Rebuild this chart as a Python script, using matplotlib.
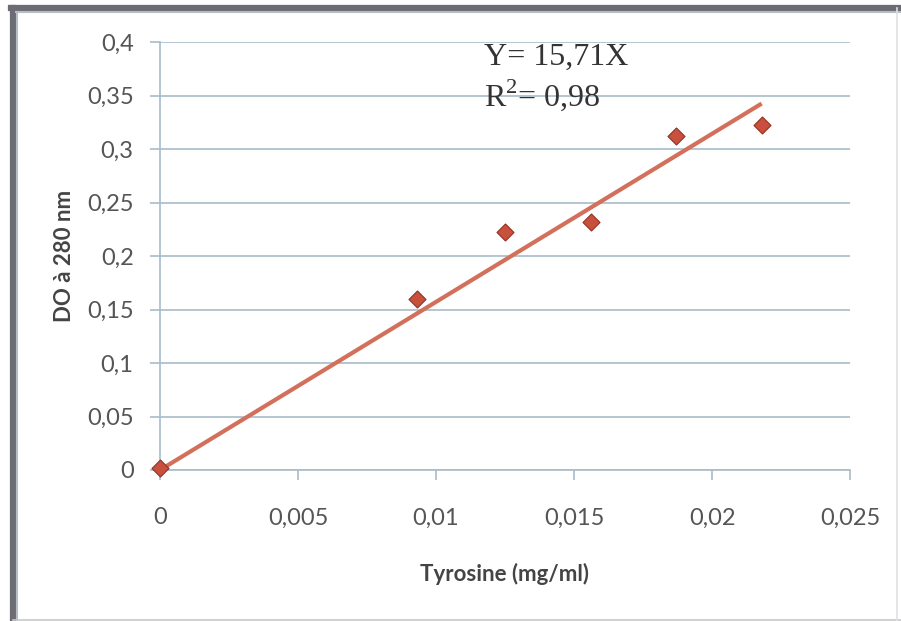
import matplotlib; matplotlib.use("Agg")
import matplotlib.pyplot as plt
from matplotlib.lines import Line2D
from matplotlib.ticker import FuncFormatter
import numpy as np

plt.rcParams["mathtext.fontset"] = "custom"
plt.rcParams["mathtext.rm"] = "Liberation Serif"

# Tyrosine calibration data
tyrosine = [0.0, 0.0093, 0.0125, 0.0156, 0.0187, 0.0218]
do_280 = [0.002, 0.160, 0.222, 0.232, 0.312, 0.322]
slope = 15.71
r2 = 0.98
xticks = [0, 0.005, 0.01, 0.015, 0.02, 0.025]
yticks = [0, 0.05, 0.1, 0.15, 0.2, 0.25, 0.3, 0.35, 0.4]

W, H = 901, 621
fig = plt.figure(figsize=(W/100, H/100), dpi=100)
ax = fig.add_axes([160/W, 1-470/H, 690/W, 428/H])

grid_c = "#a8bcc8"
tick_c = "#555555"
comma = lambda v: ("%g" % v).replace(".", ",")

ax.set_xlim(0, 0.025)
ax.set_ylim(0, 0.4)
ax.set_xticks(xticks)
ax.set_yticks(yticks)
fmt = FuncFormatter(lambda v, p: comma(v))
ax.xaxis.set_major_formatter(fmt)
ax.yaxis.set_major_formatter(fmt)
ax.grid(True, axis="y", color=grid_c, lw=1.2)
ax.set_axisbelow(True)
for s in ["top", "right"]:
    ax.spines[s].set_visible(False)
for s in ["left", "bottom"]:
    ax.spines[s].set_color(grid_c)
    ax.spines[s].set_linewidth(1.2)
ax.tick_params(axis="both", colors=grid_c, length=7, width=1.2, labelcolor=tick_c,
               labelsize=17)
ax.tick_params(axis="x", pad=20)
ax.tick_params(axis="y", pad=12)
for lab in ax.get_xticklabels() + ax.get_yticklabels():
    lab.set_family("Lato")

# trend line through origin
xl = np.array([0, max(tyrosine)])
ax.plot(xl, slope*xl, color="#d2705c", lw=3, solid_capstyle="butt", zorder=3)
ax.scatter(tyrosine, do_280, marker="D", s=75, color="#c8503c", edgecolor="#8e3326",
           lw=0.8, zorder=4, clip_on=False)

ax.text(0.01174, 0.386, "Y= " + comma(slope) + "X",
        family="Liberation Serif", fontsize=23, color="#333333", va="center", ha="left")
ax.text(0.01174, 0.350, r"R$^{\mathrm{2}}$= " + comma(r2),
        family="Liberation Serif", fontsize=23, color="#333333", va="center", ha="left")

ax.set_xlabel("Tyrosine (mg/ml)", family="Lato", fontsize=16, fontweight="bold",
              color="#444444")
ax.set_ylabel("DO à 280 nm", family="Lato", fontsize=16, fontweight="bold",
              color="#444444")
ax.xaxis.set_label_coords(0.5, -0.217)
ax.yaxis.set_label_coords(-0.123, 0.5)

# chart frame
fx = lambda p: p / W
fy = lambda p: 1 - p / H
fig.add_artist(Line2D([fx(13), fx(13)], [fy(8), fy(621)], color="#6c6c74", lw=4.5))
fig.add_artist(Line2D([fx(11), fx(901)], [fy(8), fy(8)], color="#6c6c74", lw=4.5))
fig.add_artist(Line2D([fx(17), fx(17)], [fy(12), fy(621)], color="#b8bcc4", lw=1.5))
fig.add_artist(Line2D([fx(16), fx(901)], [fy(12), fy(12)], color="#b8bcc4", lw=1.5))
fig.add_artist(Line2D([fx(13), fx(901)], [fy(619.5), fy(619.5)], color="#c8c8cc", lw=1.2))
fig.add_artist(Line2D([fx(897), fx(897)], [fy(8), fy(621)], color="#e0e0e4", lw=1.2))

fig.savefig("out.png", dpi=100)
